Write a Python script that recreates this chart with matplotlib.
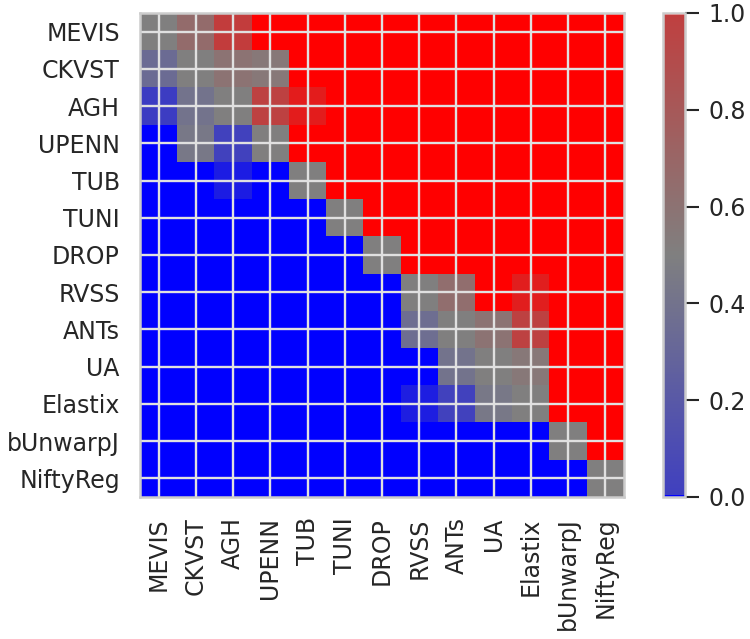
import numpy as np
import matplotlib
matplotlib.use("Agg")
import matplotlib.pyplot as plt
from matplotlib.colors import LinearSegmentedColormap, Normalize
import matplotlib.cm as cm

plt.rcParams["font.family"] = ["DejaVu Sans"]

methods = ["MEVIS", "CKVST", "AGH", "UPENN", "TUB", "TUNI", "DROP",
           "RVSS", "ANTs", "UA", "Elastix", "bUnwarpJ", "NiftyReg"]

# pairwise probability that row method ranks better than column method
win_prob = [
    [0.50, 0.58, 0.76, 1.00, 1.00, 1.00, 1.00, 1.00, 1.00, 1.00, 1.00, 1.00, 1.00],
    [0.42, 0.50, 0.55, 0.53, 1.00, 1.00, 1.00, 1.00, 1.00, 1.00, 1.00, 1.00, 1.00],
    [0.24, 0.45, 0.50, 0.74, 0.89, 1.00, 1.00, 1.00, 1.00, 1.00, 1.00, 1.00, 1.00],
    [0.00, 0.47, 0.26, 0.50, 1.00, 1.00, 1.00, 1.00, 1.00, 1.00, 1.00, 1.00, 1.00],
    [0.00, 0.00, 0.11, 0.00, 0.50, 1.00, 1.00, 1.00, 1.00, 1.00, 1.00, 1.00, 1.00],
    [0.00, 0.00, 0.00, 0.00, 0.00, 0.50, 1.00, 1.00, 1.00, 1.00, 1.00, 1.00, 1.00],
    [0.00, 0.00, 0.00, 0.00, 0.00, 0.00, 0.50, 1.00, 1.00, 1.00, 1.00, 1.00, 1.00],
    [0.00, 0.00, 0.00, 0.00, 0.00, 0.00, 0.00, 0.50, 0.57, 1.00, 0.88, 1.00, 1.00],
    [0.00, 0.00, 0.00, 0.00, 0.00, 0.00, 0.00, 0.43, 0.50, 0.55, 0.74, 1.00, 1.00],
    [0.00, 0.00, 0.00, 0.00, 0.00, 0.00, 0.00, 0.00, 0.45, 0.50, 0.53, 1.00, 1.00],
    [0.00, 0.00, 0.00, 0.00, 0.00, 0.00, 0.00, 0.12, 0.26, 0.47, 0.50, 1.00, 1.00],
    [0.00, 0.00, 0.00, 0.00, 0.00, 0.00, 0.00, 0.00, 0.00, 0.00, 0.00, 0.50, 1.00],
    [0.00, 0.00, 0.00, 0.00, 0.00, 0.00, 0.00, 0.00, 0.00, 0.00, 0.00, 0.00, 0.50],
]
cbar_ticks = [0.0, 0.2, 0.4, 0.6, 0.8, 1.0]

text_color = "#262626"
frame_color = "#cccccc"
fs = 17

cell_cmap = LinearSegmentedColormap.from_list(
    "bgr", [(0.0, (0, 0, 1)), (0.5, (0.5, 0.5, 0.5)), (1.0, (1, 0, 0))], N=256)
bar_cmap = LinearSegmentedColormap.from_list(
    "bgr_bar", [(0.0, (0, 0, 1)), (0.004, (0.25, 0.25, 0.75)),
                (0.5, (0.5, 0.5, 0.5)), (0.996, (0.75, 0.25, 0.25)),
                (1.0, (1, 0, 0))], N=256)

fig = plt.figure(figsize=(7.5, 6.39), dpi=100)
ax = fig.add_axes([140 / 750, 1 - 497 / 639, 484 / 750, 484 / 639])
ax.imshow(np.array(win_prob), cmap=cell_cmap, vmin=0, vmax=1,
          interpolation="nearest", aspect="equal")

n = len(methods)
ax.set_xticks(np.arange(n))
ax.set_yticks(np.arange(n))
ax.set_xticklabels(methods, rotation=90, fontsize=fs, color=text_color)
ax.set_yticklabels(methods, fontsize=fs, color=text_color)
ax.tick_params(length=0, pad=14.5)
ax.grid(True, color="#e0e0e0", linewidth=1.7)
for s in ax.spines.values():
    s.set_color(frame_color)
    s.set_linewidth(1.8)

cax = fig.add_axes([663 / 750, 1 - 497 / 639, 22 / 750, 484 / 639])
sm = cm.ScalarMappable(norm=Normalize(0, 1), cmap=bar_cmap)
cb = fig.colorbar(sm, cax=cax, ticks=cbar_ticks)
cb.ax.set_yticklabels([f"{t:.1f}" for t in cbar_ticks])
cb.ax.tick_params(labelsize=fs, colors=text_color, length=10, width=1.5, pad=7)
cb.outline.set_edgecolor(frame_color)
cb.outline.set_linewidth(1.8)

fig.savefig("out.png", dpi=100)
